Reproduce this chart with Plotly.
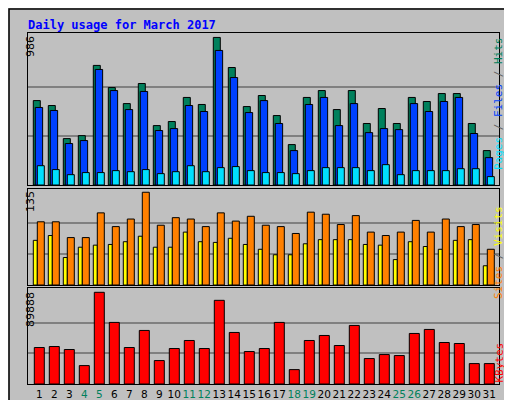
import plotly.graph_objects as go

# Daily usage for March 2017 (webalizer style)
days = list(range(1, 32))
weekend = [4, 5, 11, 12, 18, 19, 25, 26]

hits = [564, 531, 310, 330, 799, 651, 544, 678, 397, 424, 585, 538, 986, 785, 524, 598,
        464, 270, 585, 631, 504, 631, 411, 511, 411, 585, 558, 611, 611, 411, 230]
files = [518, 498, 277, 297, 772, 631, 504, 625, 364, 377, 531, 491, 899, 718, 484, 564,
         411, 230, 538, 585, 397, 544, 350, 377, 370, 544, 491, 558, 585, 344, 183]
pages = [129, 103, 69, 83, 83, 96, 89, 103, 76, 89, 129, 89, 116, 123, 96, 83,
         83, 76, 96, 116, 116, 116, 96, 136, 69, 96, 96, 96, 109, 109, 56]
visits = [92, 92, 69, 69, 105, 85, 96, 135, 87, 98, 96, 85, 105, 93, 100, 87,
          85, 75, 106, 103, 88, 101, 77, 72, 77, 94, 77, 96, 85, 88, 52]
sites = [65, 72, 40, 55, 58, 59, 63, 71, 55, 55, 77, 63, 62, 68, 59, 52,
         44, 44, 60, 66, 66, 66, 59, 58, 37, 63, 56, 52, 65, 66, 28]
kbytes = [35763, 36747, 33794, 18046, 89888, 60370, 35763, 52496, 22967, 34779, 42653,
          34779, 82025, 50527, 31826, 34779, 60370, 14108, 42653, 47575, 37732, 57418,
          24936, 28873, 27889, 49543, 53480, 40684, 39700, 20014, 20014]

BG = "#c0c0c0"
line = dict(color="black", width=1)

fig = go.Figure()


def bars(y, color, off, w, ax):
    fig.add_trace(go.Bar(x=days, y=y, offset=off, width=w, marker=dict(color=color, line=line),
                         xaxis="x" + ax, yaxis="y" + ax, showlegend=False, hoverinfo="skip"))


bars(hits, "#00805c", -0.4, 0.467, "")
bars(files, "#0040ff", -0.267, 0.49, "")
bars(pages, "#00e0ff", -0.133, 0.467, "")
bars(sites, "#ffff00", -0.4, 0.267, "2")
bars(visits, "#ff8000", -0.133, 0.467, "2")
bars(kbytes, "#ff0000", -0.333, 0.667, "3")

xr = [0.247, 31.647]
xdom = [20 / 512, 491 / 512]
ax_common = dict(range=xr, domain=xdom, showgrid=False, zeroline=False, fixedrange=True,
                 showline=True, linecolor="black", mirror=True)
ycommon = dict(showticklabels=False, ticks="", gridcolor="#808080", gridwidth=1.5,
               zeroline=False, showline=True, linecolor="black", mirror=True)

mh, mv, mk = max(hits), max(visits), max(kbytes)
tick_text = ["<span style='color:%s'>%d</span>" % ("#00805c" if d in weekend else "black", d)
             for d in days]

fig.update_layout(
    width=512, height=400, margin=dict(l=0, r=0, t=0, b=0),
    paper_bgcolor=BG, plot_bgcolor=BG, barmode="overlay",
    font=dict(family="DejaVu Sans", size=11, color="black"),
    xaxis=dict(**ax_common, anchor="y", showticklabels=False),
    xaxis2=dict(**ax_common, anchor="y2", showticklabels=False),
    xaxis3=dict(**ax_common, anchor="y3", tickvals=days, ticktext=tick_text, ticks="",
                tickangle=0, tickfont=dict(family="DejaVu Sans", size=10.5)),
    yaxis=dict(**ycommon, domain=[1 - 177 / 400, 1 - 25 / 400], range=[0, mh * 1.03],
               tickvals=[mh / 3, mh * 2 / 3], anchor="x"),
    yaxis2=dict(**ycommon, domain=[1 - 277 / 400, 1 - 181 / 400], range=[0, mv * 1.035],
                tickvals=[mv / 3, mv * 2 / 3], anchor="x2"),
    yaxis3=dict(**ycommon, domain=[1 - 376 / 400, 1 - 280 / 400], range=[0, mk * 1.047],
                tickvals=[mk / 3, mk * 2 / 3], anchor="x3"),
)

mono = "DejaVu Sans Mono"
ann = [
    dict(x=18 / 512, y=1 - 8 / 400, text="<b>Daily usage for March 2017</b>", xanchor="left",
         yanchor="top", font=dict(family=mono, size=12, color="#0000ff")),
    dict(x=14 / 512, y=1 - 26 / 400, text=str(mh), textangle=-90, yanchor="top"),
    dict(x=14 / 512, y=1 - 181 / 400, text=str(mv), textangle=-90, yanchor="top"),
    dict(x=14 / 512, y=1 - 282 / 400, text=str(mk), textangle=-90, yanchor="top"),
    dict(x=499 / 512, y=1 - 27 / 400, textangle=-90, yanchor="top",
         text="<span style='color:#00e0ff'>Pages</span><span style='color:#606060'> / </span>"
              "<span style='color:#0040ff'>Files</span><span style='color:#606060'> / </span>"
              "<span style='color:#00805c'>Hits</span>", font=dict(family=mono, size=11)),
    dict(x=499 / 512, y=1 - 196 / 400, textangle=-90, yanchor="top",
         text="<span style='color:#ff8000'>Sites</span><span style='color:#606060'> / </span>"
              "<span style='color:#ffff00'>Visits</span>", font=dict(family=mono, size=11)),
    dict(x=499 / 512, y=1 - 377 / 400, textangle=-90, yanchor="bottom",
         text="KBytes", font=dict(family=mono, size=11, color="#ff0000")),
]
for a in ann:
    a.setdefault("font", dict(family="DejaVu Sans", size=11, color="black"))
    a.update(xref="paper", yref="paper", showarrow=False)
fig.update_layout(annotations=ann)

# bevelled frame around the whole image
fig.update_layout(shapes=[
    dict(type="rect", xref="paper", yref="paper", x0=0.002, x1=0.998, y0=0.0025, y1=0.9975,
         line=dict(color="black", width=1.5)),
    dict(type="line", xref="paper", yref="paper", x0=0.004, x1=0.996, y0=0.008, y1=0.008,
         line=dict(color="#808080", width=3)),
    dict(type="line", xref="paper", yref="paper", x0=0.993, x1=0.993, y0=0.008, y1=0.996,
         line=dict(color="#808080", width=3)),
])

fig.write_html("out.html")
